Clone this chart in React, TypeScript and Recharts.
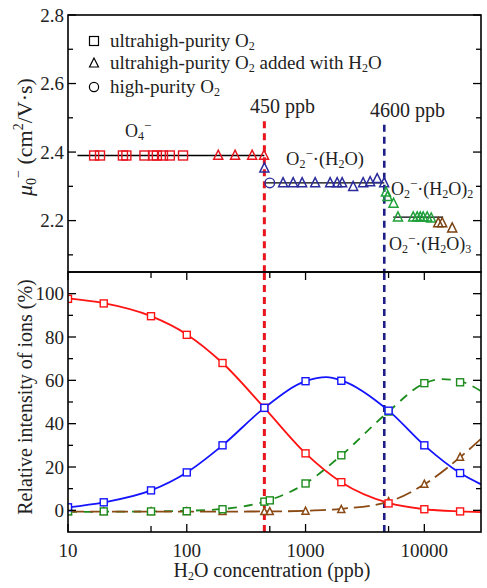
import React from "react";
import { ComposedChart, Line, Scatter, XAxis, YAxis, ReferenceLine } from "recharts";

const FONT = "Liberation Serif";

// x positions shared by both panels (ppb, log scale)
const xTicks = [10, 50, 100, 500, 1000, 5000, 10000];
const xLabels = [10, 100, 1000, 10000];

// top panel: reduced mobility (cm2/V·s)
const muTicks = [2.1, 2.2, 2.3, 2.4, 2.5, 2.6, 2.7, 2.8];
const muLabels = [2.2, 2.4, 2.6, 2.8];
const o4Square = [[16.6, 2.39], [18.6, 2.39], [29, 2.39], [31, 2.39], [44, 2.39], [52, 2.39], [56, 2.39], [63, 2.39], [72, 2.39], [93, 2.39]];
const o4Triangle = [[184, 2.39], [255, 2.39], [355, 2.39], [447, 2.39]];
const h2oTriangle = [[450, 2.353], [647, 2.31], [787, 2.31], [936, 2.31], [1205, 2.31], [1611, 2.31], [1846, 2.31], [2033, 2.31], [2516, 2.299], [3055, 2.31], [3500, 2.313], [4009, 2.322], [4590, 2.31]];
const h2oCircle = [[500, 2.31]];
const h2o2Triangle = [[4750, 2.283], [4900, 2.27], [5500, 2.25], [6000, 2.21], [8060, 2.21], [8710, 2.21], [9240, 2.21], [9780, 2.21], [10570, 2.21], [11420, 2.207]];
const h2o3Triangle = [[13100, 2.193], [14140, 2.193], [17170, 2.178]];
const o4Fit = [[12, 2.39], [450, 2.39]];
const h2oFit = [[450, 2.31], [4600, 2.31]];
const h2o2Fit = [[5470, 2.21], [14400, 2.21]];

// bottom panel: relative intensity (%)
const relTicks = [0, 10, 20, 30, 40, 50, 60, 70, 80, 90, 100];
const relLabels = [0, 20, 40, 60, 80, 100];
const o4Rel = [[10, 97.6], [20, 95.5], [50, 89.6], [100, 81], [200, 68], [450, 47.3], [1000, 26.3], [2000, 13], [5000, 3.2], [10000, 0.5], [20000, -0.5]];
const h2oRel = [[10, 1.4], [20, 3.7], [50, 9.2], [100, 17.5], [200, 30], [450, 47.3], [1000, 59.6], [2000, 59.8], [5000, 46], [10000, 30], [20000, 17.2]];
const h2o2Rel = [[10, -0.5], [20, -0.5], [50, -0.5], [100, -0.4], [200, 0.5], [450, 4], [500, 4.6], [1000, 12.4], [2000, 25.4], [5000, 45.6], [10000, 58.7], [20000, 59.1]];
const h2o3Rel = [[10, -0.6], [20, -0.6], [50, -0.6], [100, -0.6], [200, -0.6], [450, -0.6], [500, -0.6], [1000, -0.4], [2000, 0.4], [5000, 4], [10000, 12], [20000, 24.5]];
const o4Curve = [[10, 97.8], [20, 95.6], [50, 89.6], [100, 81.2], [200, 68], [450, 47.3], [1000, 26.3], [2000, 13], [5000, 3.4], [10000, 0.5], [20000, -0.5], [30000, -0.8]];
const h2oCurve = [[10, 1.4], [20, 3.7], [50, 9.2], [100, 17.5], [200, 30], [450, 47.3], [1000, 59.6], [1500, 61.5], [2000, 60], [5000, 46], [10000, 30], [20000, 17.2], [30000, 12]];
const h2o2Curve = [[10, -0.7], [50, -0.5], [100, -0.2], [200, 0.6], [450, 4], [1000, 12.4], [2000, 25.4], [5000, 45.6], [10000, 58.6], [14000, 60.6], [20000, 59.6], [30000, 55]];
const h2o3Curve = [[10, -0.6], [100, -0.6], [500, -0.5], [1000, -0.2], [2000, 0.7], [5000, 4], [10000, 12], [20000, 24.5], [30000, 33]];

const pts = (a: number[][]) => a.map(([x, y]) => ({ x, y }));

const L = 68;
const R = 481;

function square(size: number, color: string, fill: string) {
  return (p: any) => (
    <rect x={p.cx - size / 2} y={p.cy - size / 2} width={size} height={size} fill={fill} stroke={color} strokeWidth={1.4} />
  );
}

function triangle(size: number, color: string, fill: string) {
  return (p: any) => (
    <polygon
      points={`${p.cx},${p.cy - size * 0.58} ${p.cx - size / 2},${p.cy + size * 0.42} ${p.cx + size / 2},${p.cy + size * 0.42}`}
      fill={fill}
      stroke={color}
      strokeWidth={1.5}
    />
  );
}

function circle(r: number, color: string) {
  return (p: any) => <circle cx={p.cx} cy={p.cy} r={r} fill="none" stroke={color} strokeWidth={1.4} />;
}

function yTick(labeled: number[], digits: number) {
  return (props: any) => {
    const { y, payload } = props;
    const major = labeled.includes(payload.value);
    const len = major ? 8 : 5;
    return (
      <g>
        <line x1={L} x2={L + len} y1={y} y2={y} stroke="#000" strokeWidth={1.3} />
        <line x1={R - len} x2={R} y1={y} y2={y} stroke="#000" strokeWidth={1.3} />
        {major && (
          <text x={L - 4} y={y + 6.5} textAnchor="end" fontSize={19} style={{ fontFamily: FONT }} fill="#222">
            {payload.value.toFixed(digits)}
          </text>
        )}
      </g>
    );
  };
}

function xTick(top: number, bottom: number, withLabels: boolean) {
  return (props: any) => {
    const { x, payload } = props;
    const major = xLabels.includes(payload.value);
    const len = major ? 8 : 6;
    return (
      <g>
        <line x1={x} x2={x} y1={bottom} y2={bottom - len} stroke="#000" strokeWidth={1.3} />
        <line x1={x} x2={x} y1={top} y2={top + len} stroke="#000" strokeWidth={1.3} />
        {withLabels && major && (
          <text x={x} y={bottom + 25} textAnchor="middle" fontSize={19} style={{ fontFamily: FONT }} fill="#222">
            {payload.value}
          </text>
        )}
      </g>
    );
  };
}

const RED_DASH = "#e8141e";
const NAVY_DASH = "#1e1e86";

function TopPanel() {
  return (
    <ComposedChart width={487} height={272} margin={{ top: 15, right: 6, bottom: 0, left: 0 }}>
      <XAxis
        dataKey="x"
        type="number"
        scale="log"
        domain={[10, 30000]}
        allowDataOverflow
        ticks={xTicks}
        interval={0}
        height={0}
        axisLine={false}
        tickLine={false}
        tick={xTick(15, 272, false)}
      />
      <YAxis
        dataKey="y"
        type="number"
        domain={[2.05, 2.8]}
        allowDataOverflow
        ticks={muTicks}
        interval={0}
        width={68}
        axisLine={false}
        tickLine={false}
        tick={yTick(muLabels, 1)}
      />
      <Line data={pts(o4Fit)} dataKey="y" stroke="#000" strokeWidth={1.3} dot={false} isAnimationActive={false} />
      <Line data={pts(h2oFit)} dataKey="y" stroke="#000" strokeWidth={1.3} dot={false} isAnimationActive={false} />
      <Line data={pts(h2o2Fit)} dataKey="y" stroke="#000" strokeWidth={1.3} dot={false} isAnimationActive={false} />
      <ReferenceLine segment={[{ x: 450, y: 2.49 }, { x: 450, y: 2.05 }]} stroke={RED_DASH} strokeWidth={3} strokeDasharray="7 5" />
      <ReferenceLine segment={[{ x: 4600, y: 2.48 }, { x: 4600, y: 2.05 }]} stroke={NAVY_DASH} strokeWidth={2.6} strokeDasharray="7 5" />
      <Scatter data={pts(o4Square)} shape={square(9, "#e8141e", "none")} isAnimationActive={false} />
      <Scatter data={pts(o4Triangle)} shape={triangle(9, "#e8141e", "none")} isAnimationActive={false} />
      <Scatter data={pts(h2oTriangle)} shape={triangle(9, "#2b2b9c", "none")} isAnimationActive={false} />
      <Scatter data={pts(h2oCircle)} shape={circle(4.8, "#2b2b9c")} isAnimationActive={false} />
      <Scatter data={pts(h2o2Triangle)} shape={triangle(9, "#1fa03a", "none")} isAnimationActive={false} />
      <Scatter data={pts(h2o3Triangle)} shape={triangle(9, "#7a4212", "none")} isAnimationActive={false} />
    </ComposedChart>
  );
}

function BottomPanel() {
  return (
    <ComposedChart width={487} height={316} margin={{ top: 0, right: 6, bottom: 0, left: 0 }}>
      <XAxis
        dataKey="x"
        type="number"
        scale="log"
        domain={[10, 30000]}
        allowDataOverflow
        ticks={xTicks}
        interval={0}
        height={56}
        axisLine={false}
        tickLine={false}
        tick={xTick(0, 260, true)}
      />
      <YAxis
        dataKey="y"
        type="number"
        domain={[-10, 110]}
        allowDataOverflow
        ticks={relTicks}
        interval={0}
        width={68}
        axisLine={false}
        tickLine={false}
        tick={yTick(relLabels, 0)}
      />
      <ReferenceLine x={450} stroke={RED_DASH} strokeWidth={3} strokeDasharray="7 5" />
      <ReferenceLine x={4600} stroke={NAVY_DASH} strokeWidth={2.6} strokeDasharray="7 5" />
      <Line data={pts(o4Curve)} dataKey="y" type="monotone" stroke="#ff1414" strokeWidth={1.8} dot={false} isAnimationActive={false} />
      <Line data={pts(h2oCurve)} dataKey="y" type="monotone" stroke="#1414ff" strokeWidth={1.8} dot={false} isAnimationActive={false} />
      <Line data={pts(h2o2Curve)} dataKey="y" type="monotone" stroke="#1c8c1c" strokeWidth={1.8} strokeDasharray="9 7" dot={false} isAnimationActive={false} />
      <Line data={pts(h2o3Curve)} dataKey="y" type="monotone" stroke="#8b4a14" strokeWidth={1.8} strokeDasharray="16 6" dot={false} isAnimationActive={false} />
      <Scatter data={pts(h2o3Rel)} shape={triangle(7, "#8b4a14", "#fff")} isAnimationActive={false} />
      <Scatter data={pts(h2o2Rel)} shape={square(7, "#1c8c1c", "#fff")} isAnimationActive={false} />
      <Scatter data={pts(o4Rel)} shape={square(7, "#ff1414", "#fff")} isAnimationActive={false} />
      <Scatter data={pts(h2oRel)} shape={square(7, "#1414ff", "#fff")} isAnimationActive={false} />
    </ComposedChart>
  );
}

function Overlay() {
  const t = { style: { fontFamily: FONT }, fill: "#222" };
  return (
    <svg width={487} height={588} style={{ position: "absolute", left: 0, top: 0, pointerEvents: "none" }}>
      <rect x={L} y={15} width={R - L} height={257} fill="none" stroke="#000" strokeWidth={1.6} />
      <rect x={L} y={272} width={R - L} height={260} fill="none" stroke="#000" strokeWidth={1.6} />

      {/* legend */}
      <rect x={89.5} y={36.5} width={9} height={9} fill="none" stroke="#000" strokeWidth={1.2} />
      <polygon points="94,58 89.5,67 98.5,67" fill="none" stroke="#000" strokeWidth={1.2} />
      <circle cx={94} cy={87} r={4.6} fill="none" stroke="#000" strokeWidth={1.2} />
      <text x={110} y={47} fontSize={19} {...t}>
        ultrahigh-purity O<tspan baselineShift="-3" fontSize={12}>2</tspan>
      </text>
      <text x={110} y={69} fontSize={19} {...t}>
        ultrahigh-purity O<tspan baselineShift="-3" fontSize={12}>2</tspan> added with H<tspan baselineShift="-3" fontSize={12}>2</tspan>O
      </text>
      <text x={110} y={93} fontSize={19} {...t}>
        high-purity O<tspan baselineShift="-3" fontSize={12}>2</tspan>
      </text>

      {/* annotations */}
      <text x={250} y={113} fontSize={20} {...t}>450 ppb</text>
      <text x={370} y={117} fontSize={20} {...t}>4600 ppb</text>
      <text x={125} y={137} fontSize={18} {...t}>
        O<tspan baselineShift="-3" fontSize={12}>4</tspan><tspan baselineShift="7" fontSize={13}>−</tspan>
      </text>
      <text x={286} y={165} fontSize={18.5} {...t}>
        O<tspan baselineShift="-3" fontSize={12}>2</tspan><tspan baselineShift="7" fontSize={13}>−</tspan>·(H<tspan baselineShift="-3" fontSize={12}>2</tspan>O)
      </text>
      <text x={391} y={195} fontSize={18} {...t}>
        O<tspan baselineShift="-3" fontSize={12}>2</tspan><tspan baselineShift="7" fontSize={13}>−</tspan>·(H<tspan baselineShift="-3" fontSize={12}>2</tspan>O)<tspan baselineShift="-3" fontSize={12}>2</tspan>
      </text>
      <text x={389} y={250} fontSize={18} {...t}>
        O<tspan baselineShift="-3" fontSize={12}>2</tspan><tspan baselineShift="7" fontSize={13}>−</tspan>·(H<tspan baselineShift="-3" fontSize={12}>2</tspan>O)<tspan baselineShift="-3" fontSize={12}>3</tspan>
      </text>

      {/* axis titles */}
      <text transform="translate(32,137) rotate(-90)" textAnchor="middle" fontSize={22} {...t}>
        <tspan fontStyle="italic">μ</tspan><tspan baselineShift="-4" fontSize={14}>0</tspan><tspan baselineShift="9" fontSize={14}>−</tspan> (cm<tspan baselineShift="9" fontSize={14}>2</tspan>/V·s)
      </text>
      <text transform="translate(32,397) rotate(-90)" textAnchor="middle" fontSize={20} {...t}>
        Relative intensity of ions (%)
      </text>
      <text x={272} y={577} textAnchor="middle" fontSize={20} {...t}>
        H<tspan baselineShift="-3" fontSize={12}>2</tspan>O concentration (ppb)
      </text>
    </svg>
  );
}

export default function App() {
  return (
    <div style={{ position: "absolute", left: 0, top: 0, width: 487, height: 588, background: "#fff" }}>
      <div style={{ position: "absolute", left: 0, top: 0 }}>
        <TopPanel />
      </div>
      <div style={{ position: "absolute", left: 0, top: 272 }}>
        <BottomPanel />
      </div>
      <Overlay />
    </div>
  );
}
